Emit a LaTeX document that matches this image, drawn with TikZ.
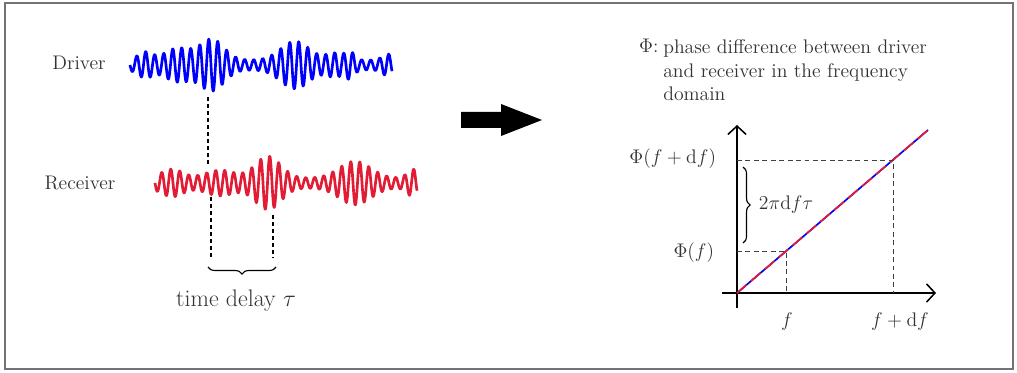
\RequirePackage{fix-cm}
\documentclass[tikz,border=0pt]{standalone}
\usetikzlibrary{arrows.meta,decorations.pathreplacing,positioning}
\definecolor{wred}{RGB}{226,28,52}
\tikzset{
  declare function={env(\pos,\ctr,\wid)=exp(-min(((\pos-\ctr)/\wid)*((\pos-\ctr)/\wid),9));},
  lbl/.style={text=black!80,font=\fontsize{14}{17}\selectfont},
  wave/.style={line width=1.9pt,line join=round},
  delay/.style={line width=1.8pt,dash pattern=on 3pt off 2pt},
  guide/.style={black!75,line width=0.7pt,dash pattern=on 3.5pt off 2.5pt},
  axis/.style={line width=1.1pt,-{Straight Barb[length=6pt,width=13pt]}},
  brc/.style={decorate,decoration={brace,amplitude=5pt},line width=0.8pt}
}
\begin{document}
\begin{tikzpicture}[x=0.025cm,y=-0.025cm]
  \useasboundingbox (0,0) rectangle (1017,373);
  \draw[black!55,line width=1.2pt] (5,3) rectangle (1013,369);
  % time signals
  \node[lbl] (drv) at (79,63) {Driver};
  \node[lbl] (rcv) at (80,183) {Receiver};
  \draw[wave,blue] plot[domain=130:392,samples=520]
    (\x,{65+(5+8*env(\x,145,10)+12*env(\x,178,18)+21*env(\x,212,17)+19*env(\x,295,20)+7*env(\x,335,12)+8*env(\x,350,6)+6*env(\x,388,8))*sin(40*(\x-130))});
  \draw[wave,wred] plot[domain=155:417,samples=520]
    (\x,{183+(5+9*env(\x,172,15)+8*env(\x,220,20)+22*env(\x,268,18)+17*env(\x,355,22)+9*env(\x,413,8))*sin(40*(\x-155))});
  \coordinate (d1) at (208,97);
  \coordinate (d2) at (208,165);
  \coordinate (r1) at (211,197);
  \coordinate (r2) at (211,258);
  \coordinate (r3) at (273,215);
  \coordinate (r4) at (273,258);
  \draw[delay] (d1) -- (d2);
  \draw[delay] (r1) -- (r2);
  \draw[delay] (r3) -- (r4);
  \draw[brc] (276,267) -- (208,267);
  \node[text=black!80,font=\fontsize{17}{20}\selectfont] (tdl) at (236,301) {time delay $\tau$};
  % big arrow
  \fill (461,112) -- (501,112) -- (501,104) -- (542,120) -- (501,136) -- (501,128) -- (461,128) -- cycle;
  % phase plot
  \node[lbl,anchor=north west,align=left,inner sep=0pt] (desc) at (663,39)
    {phase difference between driver\\and receiver in the frequency\\domain};
  \node[lbl,anchor=north east,inner sep=0pt] (phi) at ([xshift=-3pt]desc.north west) {$\Phi$:};
  \coordinate (O) at (737,293);
  \coordinate (P1) at (786,251);
  \coordinate (P2) at (893,160);
  \coordinate (E) at (928,130);
  \draw[axis] (722,293) -- (936,293);
  \draw[axis] (737,308) -- (737,125);
  \draw[blue,line width=1.2pt] (O) -- (E);
  \draw[wred,line width=1.2pt,dash pattern=on 9pt off 4pt] (O) -- (E);
  \draw[guide] (O |- P1) -- (P1) -- (P1 |- O);
  \draw[guide] (O |- P2) -- (P2) -- (P2 |- O);
  \node[lbl,anchor=east] (phf) at (719,253) {$\Phi(f)$};
  \node[lbl,anchor=east] (phfdf) at (721,159) {$\Phi(f+\mathrm{d}f)$};
  \node[lbl] (fl) at (787,322) {$f$};
  \node[lbl] (fdfl) at (900,322) {$f+\mathrm{d}f$};
  \draw[brc] (743,167) -- (743,243);
  \node[lbl,anchor=west] (dphi) at (754,205) {$2\pi\mathrm{d}f\tau$};
\end{tikzpicture}
\end{document}
